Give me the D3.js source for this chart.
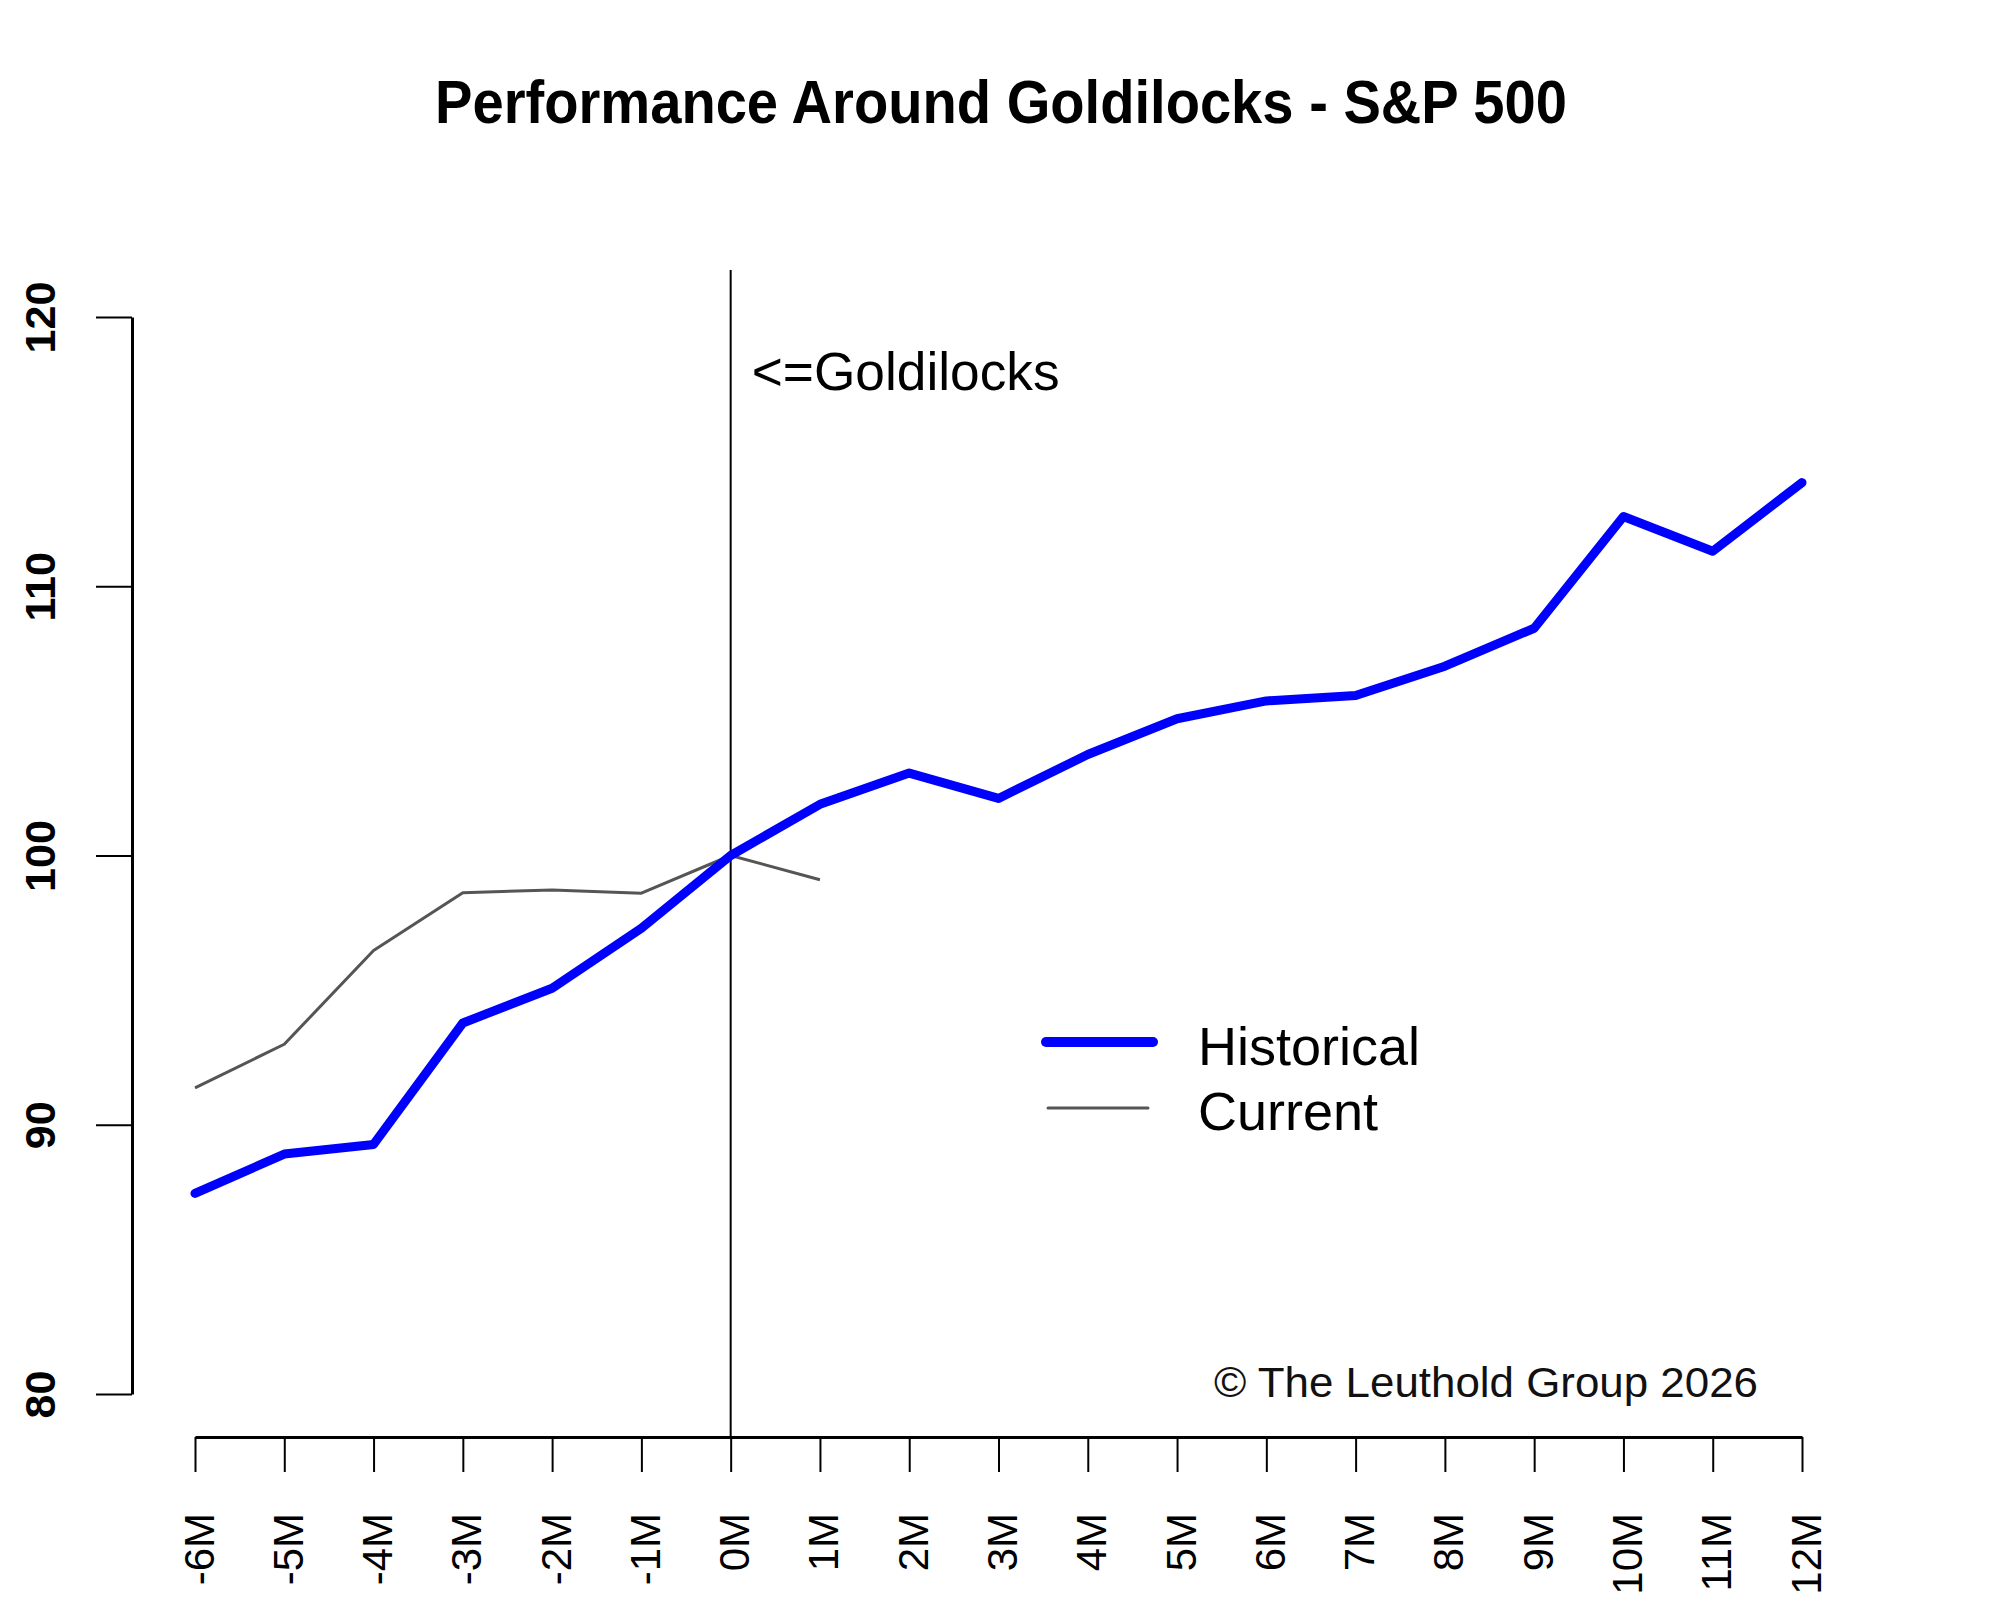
<!DOCTYPE html>
<html>
<head>
<meta charset="utf-8">
<script src="https://cdn.jsdelivr.net/npm/d3@7"></script>
<style>
  html, body { margin: 0; padding: 0; background: #fff; }
  svg { display: block; font-family: "Liberation Sans", Arial, sans-serif; }
</style>
</head>
<body>
<svg id="chart" width="2000" height="1611"></svg>
<script>
// ---- data ----
const months = ["-6M","-5M","-4M","-3M","-2M","-1M","0M","1M","2M","3M","4M","5M","6M","7M","8M","9M","10M","11M","12M"];
const historical = [87.45, 88.91, 89.27, 93.78, 95.07, 97.3, 100, 101.9, 103.06, 102.12, 103.75, 105.08, 105.74, 105.94, 107.03, 108.44, 112.59, 111.3, 113.85];
const current = [91.37, 92.99, 96.47, 98.62, 98.72, 98.6, 100, 99.1];
const yTicks = [80, 90, 100, 110, 120];
const seriesNames = ["Historical", "Current"];
const titleText = "Performance Around Goldilocks - S&P 500";
const markerLabel = "<=Goldilocks";
const markerMonth = "0M";
const credit = "\u00A9 The Leuthold Group 2026";

// ---- layout ----
const svg = d3.select("#chart");
svg.append("rect").attr("width", 2000).attr("height", 1611).attr("fill", "#fff");

const x = d3.scalePoint().domain(months).range([195, 1802]);
const y = d3.scaleLinear().domain([80, 120]).range([1394, 317]);
const xAxisY = 1437;
const yAxisX = 132;

// title
svg.append("text")
  .attr("x", 435).attr("y", 123)
  .attr("font-size", 62).attr("font-weight", "bold")
  .attr("textLength", 1132).attr("lengthAdjust", "spacingAndGlyphs")
  .attr("fill", "#000")
  .text(titleText);

// y axis
const yAxis = svg.append("g")
  .attr("transform", `translate(${yAxisX},0)`)
  .call(d3.axisLeft(y).tickValues(yTicks).tickSize(36).tickSizeOuter(0).tickFormat(d3.format("d")));
yAxis.select(".domain").attr("stroke", "#000").attr("stroke-width", 3);
yAxis.selectAll(".tick line").attr("stroke", "#000").attr("stroke-width", 2);
yAxis.selectAll(".tick text")
  .attr("transform", "rotate(-90)")
  .attr("x", 0).attr("y", -77).attr("dy", 0)
  .attr("text-anchor", "middle")
  .attr("font-size", 43).attr("font-weight", "bold")
  .attr("font-family", "'Liberation Sans', Arial, sans-serif")
  .attr("fill", "#000");

// x axis
const xAxis = svg.append("g")
  .attr("transform", `translate(0,${xAxisY})`)
  .call(d3.axisBottom(x).tickSize(35).tickSizeOuter(0));
xAxis.select(".domain").attr("stroke", "#000").attr("stroke-width", 3);
xAxis.selectAll(".tick line").attr("stroke", "#000").attr("stroke-width", 2);
xAxis.selectAll(".tick text")
  .attr("transform", "rotate(-90)")
  .attr("x", -76).attr("y", 18).attr("dy", 0)
  .attr("text-anchor", "end")
  .attr("font-size", 42)
  .attr("font-family", "'Liberation Sans', Arial, sans-serif")
  .attr("fill", "#000");

// vertical marker line
svg.append("line")
  .attr("x1", x(markerMonth)).attr("x2", x(markerMonth))
  .attr("y1", 270).attr("y2", xAxisY)
  .attr("stroke", "#000").attr("stroke-width", 2);

svg.append("text")
  .attr("x", x(markerMonth) + 21).attr("y", 390)
  .attr("font-size", 53)
  .attr("textLength", 308).attr("lengthAdjust", "spacingAndGlyphs")
  .attr("fill", "#000")
  .text(markerLabel);

// lines
const line = d3.line().x((d, i) => x(months[i])).y(d => y(d));

svg.append("path")
  .datum(current)
  .attr("d", line)
  .attr("fill", "none")
  .attr("stroke", "#555")
  .attr("stroke-width", 3)
  .attr("stroke-linejoin", "round");

svg.append("path")
  .datum(historical)
  .attr("d", line)
  .attr("fill", "none")
  .attr("stroke", "#0000ff")
  .attr("stroke-width", 9)
  .attr("stroke-linejoin", "round")
  .attr("stroke-linecap", "round");

// legend
const legend = svg.append("g");
const legendItems = [
  {name: seriesNames[0], color: "#0000ff", width: 10, x1: 1046, x2: 1153, ly: 1042, ty: 1065, tl: 219},
  {name: seriesNames[1], color: "#555", width: 3, x1: 1048, x2: 1148, ly: 1108, ty: 1130, tl: 172}
];
legendItems.forEach(it => {
  legend.append("line")
    .attr("x1", it.x1).attr("x2", it.x2).attr("y1", it.ly).attr("y2", it.ly)
    .attr("stroke", it.color).attr("stroke-width", it.width).attr("stroke-linecap", "round");
  legend.append("text")
    .attr("x", 1198).attr("y", it.ty)
    .attr("font-size", 54)
    .attr("fill", "#000")
    .text(it.name);
});

// credit
svg.append("text")
  .attr("x", 1214).attr("y", 1397)
  .attr("font-size", 43)
  .attr("textLength", 544).attr("lengthAdjust", "spacingAndGlyphs")
  .attr("fill", "#111")
  .text(credit);
</script>
</body>
</html>
